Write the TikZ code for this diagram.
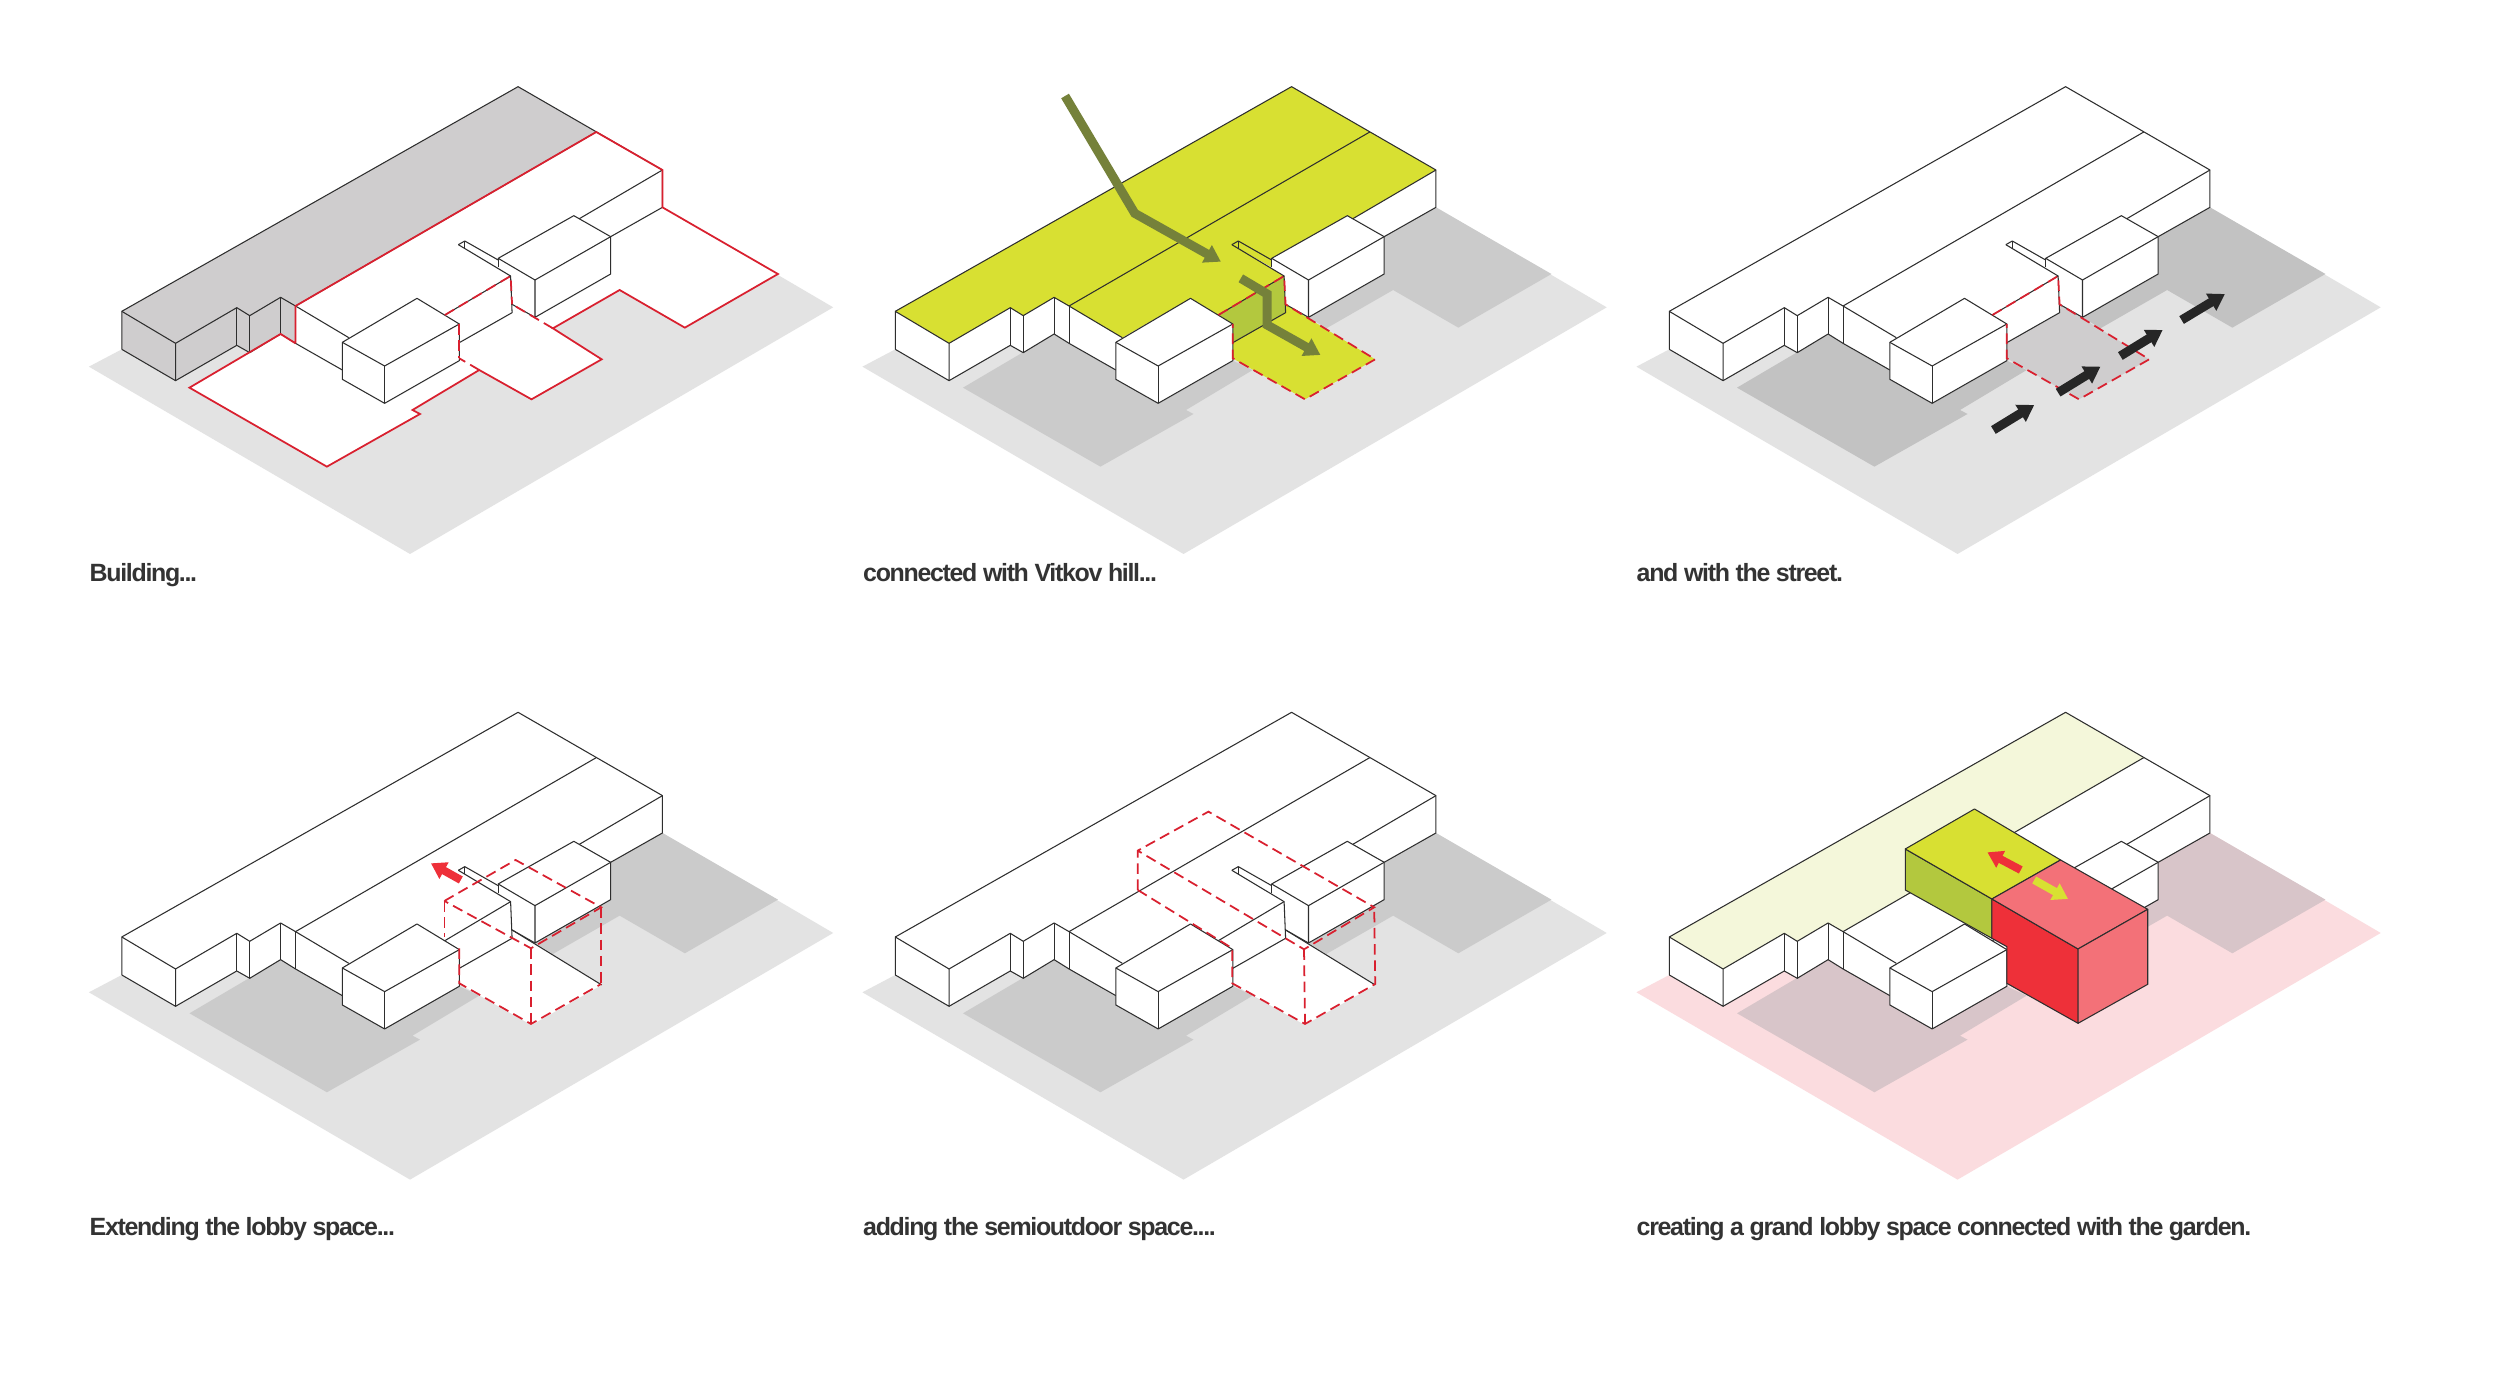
\documentclass[tikz,border=0pt]{standalone}
\usepackage{fontspec}
\usepackage{tikz}
\usetikzlibrary{arrows.meta}
\newfontfamily\capfont[LetterSpace=-5.3]{Liberation Sans}
\definecolor{bodeng}{HTML}{E3E3E3}
\definecolor{schatg}{HTML}{CBCBCB}
\definecolor{schatd}{HTML}{C2C2C2}
\definecolor{dachg}{HTML}{CFCDCE}
\definecolor{gelb}{HTML}{D8E032}
\definecolor{oliv}{HTML}{B3C83E}
\definecolor{pfeilo}{HTML}{75813A}
\definecolor{rotl}{HTML}{D9202F}
\definecolor{rotv}{HTML}{EE3039}
\definecolor{rosa}{HTML}{F37178}
\definecolor{bodenr}{HTML}{FBDCDF}
\definecolor{schatr}{HTML}{D8C5C9}
\definecolor{blass}{HTML}{F4F7DA}
\definecolor{linie}{HTML}{2E2E2E}
\definecolor{textg}{HTML}{333333}
\tikzset{
  lin/.style={linie,line width=0.3pt,line join=round},
  redl/.style={rotl,line width=0.5pt,line join=miter},
  redd/.style={rotl,line width=0.5pt,dash pattern=on 3pt off 1.6pt},
  pf/.style={-{Triangle[length=1.6mm,width=1.9mm]},line width=0.9mm,line join=miter},
  pfk/.style={-{Triangle[length=1.5mm,width=1.8mm]},line width=0.8mm},
  feld/.style={xscale=0.9957},
  titel/.style={anchor=base west,inner sep=0pt,textg,font=\capfont\bfseries\fontsize{7.1}{9}\selectfont},
}
% Grundrisse
\newcommand{\bodenform}{(38,890)--(683,1452)--(1533,712)--(1190,412)--(104,838)--cycle}
\newcommand{\schattenA}{(240,953)--(423,792)--(453,820)--(547,900)--(632,1000)--(782,872)--(822,900)--(688,1020)--(703,1032)--(516,1190)--cycle}
\newcommand{\schattenB}{(1190,412)--(1422,612)--(1235,773)--(1104,660)--(970,775)--(934,742)--(1086,612)--(1086,500)--cycle}
\newcommand{\hausform}{(104,724)--(900,50)--(1190,300)--(1190,412)--(1086,500)--(1086,612)--(934,742)--(888,703)--(888,728)--(782,818)--(782,872)--(632,1000)--(547,928)--(547,900)--(453,820)--(423,792)--(361,848)--(335,826)--(212,932)--(104,838)--cycle}
\newcommand{\streifen}{(104,724)--(900,50)--(1057,186)--(453,708)--(423,682)--(361,737)--(335,713)--(212,820)--cycle}
\newcommand{\dachform}{(104,724)--(900,50)--(1190,300)--(1022,447)--(1012,437)--(860,565)--(860,592)--(780,524)--(885,618)--(753,735)--(697,685)--(560,803)--(453,708)--(423,682)--(361,737)--(335,713)--(212,820)--cycle}
\newcommand{\lobby}{(782,818)--(888,728)--(888,703)--(1068,868)--(927,988)--(782,865)--cycle}
\newcommand{\wand}{(753,735)--(885,618)--(888,728)--(782,818)--(782,762)--cycle}
\newcommand{\kanten}{
  \draw[lin] (104,838)--(104,724)--(900,50)--(1190,300)--(1190,412)--(1086,500);
  \draw[lin] (104,724)--(212,820)--(212,932)--(104,838);
  \draw[lin] (212,820)--(335,713)--(361,737)--(423,682)--(453,708)--(1057,186);
  \draw[lin] (335,713)--(335,826); \draw[lin] (361,737)--(361,848);
  \draw[lin] (423,682)--(423,792); \draw[lin] (453,708)--(453,820);
  \draw[lin] (212,932)--(335,826)--(361,848)--(423,792)--(453,820)--(547,900);
  \draw[lin] (453,708)--(560,803);
  \draw[lin] (1190,300)--(1022,447);
  \draw[lin] (780,524)--(793,513)--(860,570); \draw[lin] (793,513)--(793,535);
  \draw[lin] (780,524)--(885,618)--(888,728)--(782,818);
  \draw[lin] (753,735)--(885,618);
  \draw[lin] (888,703)--(934,742);
  \draw[lin] (860,565)--(860,592);
}
\newcommand{\kuben}{
  \draw[lin,fill=white] (697,685)--(782,762)--(782,872)--(632,1000)--(547,928)--(547,817)--cycle;
  \draw[lin] (547,817)--(632,888)--(782,762); \draw[lin] (632,888)--(632,1000);
  \draw[lin,fill=white] (1012,437)--(1086,500)--(1086,612)--(934,742)--(934,630)--(860,565)--cycle;
  \draw[lin] (934,630)--(1086,500);
}
\begin{document}
\begin{tikzpicture}[x=0.14226pt,y=-0.09484pt]
  \useasboundingbox (0,0) rectangle (5000,4152);
  \fill[white] (0,0) rectangle (5000,4152);
  % Building
  \begin{scope}[shift={(140,210)},feld]
    \fill[bodeng] \bodenform;
    \fill[white] (1190,412)--(1422,612)--(1235,773)--(1104,660)--(970,775)--(1068,868)--(927,988)--(822,900)--(688,1020)--(703,1032)--(516,1190)--(240,953)--(423,792)--(453,820)--cycle;
    \fill[white] \hausform;
    \fill[dachg] \streifen;
    \fill[dachg] (104,724)--(212,820)--(212,932)--(104,838)--cycle;
    \fill[dachg] (212,820)--(335,713)--(361,737)--(423,682)--(453,708)--(453,820)--(423,792)--(361,848)--(335,826)--(212,932)--cycle;
    \kanten
    \kuben
    \draw[redl] (453,820)--(453,708)--(1057,186)--(1190,300)--(1190,412)--(1422,612)--(1235,773)--(1104,660)--(970,775)--(1068,868)--(927,988)--(822,900)--(688,1020)--(703,1032)--(516,1190)--(240,953)--(423,792)--(453,820);
    \draw[redd] (970,775)--(888,703);
    \draw[redd] (822,900)--(782,865);
    \draw[redd] (782,762)--(782,865);
    \draw[redd] (753,735)--(885,618)--(888,703);
  \end{scope}
  % Vitkov
  \begin{scope}[shift={(1687,210)},feld]
    \fill[bodeng] \bodenform;
    \fill[schatg] \schattenA;
    \fill[schatg] \schattenB;
    \fill[white] \hausform;
    \fill[gelb] \dachform;
    \fill[oliv] \wand;
    \fill[gelb] \lobby;
    \kanten
    \kuben
    \draw[redd] (753,735)--(885,618)--(888,703)--(1068,868)--(927,988)--(782,865)--(782,762);
    \draw[pf,pfeilo] (445,78)--(585,430)--(758,575);
    \draw[pf,pfeilo] (798,625)--(851,672)--(851,765)--(958,855);
  \end{scope}
  % Strasse
  \begin{scope}[shift={(3235,210)},feld]
    \fill[bodeng] \bodenform;
    \fill[schatd] \schattenA;
    \fill[schatd] \schattenB;
    \fill[dachg] \lobby;
    \fill[white] \hausform;
    \kanten
    \kuben
    \draw[redd] (753,735)--(885,618)--(888,703)--(1068,868)--(927,988)--(782,865)--(782,762);
    \draw[pf,black!85] (755,1080)--(837,1005);
    \draw[pf,black!85] (885,968)--(970,890);
    \draw[pf,black!85] (1010,858)--(1095,780);
    \draw[pf,black!85] (1133,750)--(1220,672);
  \end{scope}
  % Lobby
  \begin{scope}[shift={(140,2087)},feld]
    \fill[bodeng] \bodenform;
    \fill[schatg] \schattenA;
    \fill[schatg] \schattenB;
    \fill[white] \lobby;
    \fill[white] \hausform;
    \kanten
    \kuben
    \draw[lin] (888,703)--(1068,868);
    \draw[redd] (752,616)--(895,493)--(1067,635)--(926,758)--cycle;
    \draw[redd] (752,616)--(752,723);
    \draw[redd] (926,758)--(926,985);
    \draw[redd] (1067,635)--(1067,865);
    \draw[redd] (782,758)--(782,863)--(926,985)--(1067,865);
    \draw[pfk,rotv] (785,553)--(725,503);
  \end{scope}
  % Semi
  \begin{scope}[shift={(1687,2087)},feld]
    \fill[bodeng] \bodenform;
    \fill[schatg] \schattenA;
    \fill[schatg] \schattenB;
    \fill[white] \lobby;
    \fill[white] \hausform;
    \kanten
    \kuben
    \draw[lin] (888,703)--(1068,868);
    \draw[redd] (591,583)--(591,465)--(733,348)--(1066,635)--(925,761)--(591,465);
    \draw[redd] (591,583)--(781,758)--(781,863)--(927,985)--(1068,865)--(1066,635);
    \draw[redd] (925,761)--(927,985);
  \end{scope}
  % Garten
  \begin{scope}[shift={(3235,2087)},feld]
    \fill[bodenr] \bodenform;
    \fill[schatr] \schattenA;
    \fill[schatr] \schattenB;
    \fill[white] \hausform;
    \fill[blass] \streifen;
    \kanten
    \kuben
    \draw[lin,fill=oliv] (578,460)--(752,610)--(752,728)--(578,583)--cycle;
    \draw[lin,fill=gelb] (578,460)--(717,340)--(890,493)--(752,610)--cycle;
    \draw[lin,fill=rotv] (752,610)--(925,760)--(925,983)--(782,863)--(782,753)--(752,728)--cycle;
    \draw[lin,fill=rosa] (752,610)--(890,493)--(1065,641)--(925,760)--cycle;
    \draw[lin,fill=rosa] (925,760)--(1065,641)--(1065,866)--(925,983)--cycle;
    \draw[pfk,rotv] (810,523)--(743,470);
    \draw[pfk,gelb] (837,553)--(905,610);
  \end{scope}
  \node[titel] (capa) at (178,1744) {Building...};
  \node[titel] (capb) at (1725,1744) {connected with Vitkov hill...};
  \node[titel] (capc) at (3272,1744) {and with the street.};
  \node[titel] (capd) at (178,3708) {Extending the lobby space...};
  \node[titel] (cape) at (1725,3708) {adding the semioutdoor space....};
  \node[titel] (capf) at (3272,3708) {creating a grand lobby space connected with the garden.};
\end{tikzpicture}
\end{document}
